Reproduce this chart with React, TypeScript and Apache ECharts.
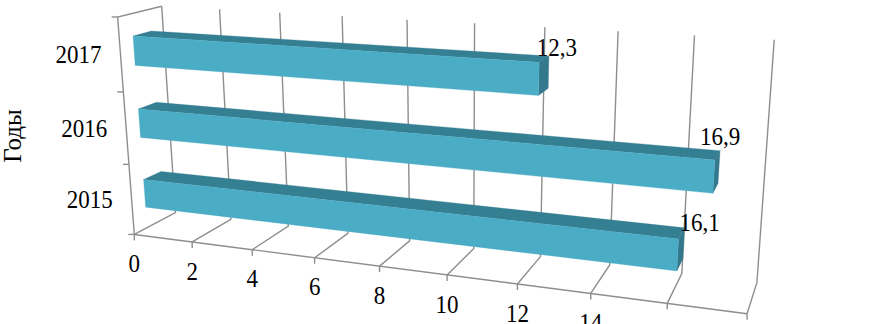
import React, { useEffect, useRef } from "react";
import * as echarts from "echarts";

const categories = ["2015", "2016", "2017"];
const values = [16.1, 16.9, 12.3];
const valueLabels = ["16,1", "16,9", "12,3"];
const labelOffsets = [[15, -5], [0, -14], [8, -8]];
const axisTicks = [0, 2, 4, 6, 8, 10, 12, 14, 16, 18];
const axisTickLabels = ["0", "2", "4", "6", "8", "10", "12", "14", "", ""];
const axisTitle = "Годы";

// Where the chart's 3D box lands on the page: used only to fit the perspective camera.
const floorFrontAnchors = [[134, 235], [193, 243], [252, 250], [315, 257], [379, 267], [447, 275], [518, 283], [591, 293], [667, 303], [747, 313]];
const floorBackAnchors = [[175, 213], [231, 218], [288, 225], [348, 233], [409, 242], [474, 248], [541, 255], [610, 265], [682, 275], [756, 285]];
const wallTopAnchors = [[162, 7], [220, 9], [280, 13], [342, 16], [407, 20], [474, 23], [545, 27], [618, 31], [695, 35], [774, 40]];
const sideTopFrontAnchor = [117, 17];

const BAR_FRONT_DEPTH = 0.3;
const BAR_BACK_DEPTH = 0.72;
const BAR_BAND_SHARE = 0.4;
const FONT = "Liberation Serif";
const FONT_SIZE = 23;
const TEXT_STRETCH = 1.05;
const COLOR_FRONT = "#4BACC6";
const COLOR_TOP = "#357F93";
const COLOR_SIDE = "#33788C";
const COLOR_GRID = "#8E8E8E";
const COLOR_TEXT = "#000000";

function solve(a: number[][], b: number[]) {
  const n = b.length;
  const m = a.map((r, i) => [...r, b[i]]);
  for (let c = 0; c < n; c++) {
    let p = c;
    for (let r = c + 1; r < n; r++) if (Math.abs(m[r][c]) > Math.abs(m[p][c])) p = r;
    [m[c], m[p]] = [m[p], m[c]];
    for (let r = 0; r < n; r++) {
      if (r === c) continue;
      const f = m[r][c] / m[c][c];
      for (let k = c; k <= n; k++) m[r][k] -= f * m[c][k];
    }
  }
  return m.map((r, i) => r[n] / r[i]);
}

function fitCamera() {
  const pts: number[][] = [];
  axisTicks.forEach((t, i) => {
    const X = t / 18;
    pts.push([X, 0, 0, ...floorFrontAnchors[i]]);
    pts.push([X, 0, 1, ...floorBackAnchors[i]]);
    pts.push([X, 1, 1, ...wallTopAnchors[i]]);
  });
  pts.push([0, 1, 0, ...sideTopFrontAnchor]);
  const rows: number[][] = [];
  const rhs: number[] = [];
  pts.forEach(([X, Y, Z, u, v]) => {
    rows.push([X, Y, Z, 1, 0, 0, 0, 0, -u * X, -u * Y, -u * Z]);
    rhs.push(u);
    rows.push([0, 0, 0, 0, X, Y, Z, 1, -v * X, -v * Y, -v * Z]);
    rhs.push(v);
  });
  const n = 11;
  const ata = Array.from({ length: n }, () => new Array(n).fill(0));
  const atb = new Array(n).fill(0);
  rows.forEach((r, i) => {
    for (let a = 0; a < n; a++) {
      atb[a] += r[a] * rhs[i];
      for (let b = 0; b < n; b++) ata[a][b] += r[a] * r[b];
    }
  });
  return solve(ata, atb);
}

const cam = fitCamera();
function project(X: number, Y: number, Z: number): number[] {
  const w = cam[8] * X + cam[9] * Y + cam[10] * Z + 1;
  return [
    (cam[0] * X + cam[1] * Y + cam[2] * Z + cam[3]) / w,
    (cam[4] * X + cam[5] * Y + cam[6] * Z + cam[7]) / w,
  ];
}

const line = (points: number[][], z = 0) => ({
  type: "polyline",
  shape: { points },
  style: { stroke: COLOR_GRID, lineWidth: 1.4, fill: null },
  z2: z,
});
const label = (text: string, x: number, y: number) => ({
  type: "text",
  x,
  y,
  scaleY: TEXT_STRETCH,
  style: { text, fontFamily: FONT, fontSize: FONT_SIZE, fill: COLOR_TEXT, align: "center", verticalAlign: "middle" },
  z2: 50,
});
const face = (points: number[][], fill: string) => ({ type: "polygon", shape: { points }, style: { fill, stroke: fill, lineWidth: 0.3 } });

function renderValueTick(params: any, api: any) {
  const cs = params.coordSys;
  const X = (api.coord([api.value(0), 0])[0] - cs.x) / cs.width;
  const front = project(X, 0, 0);
  const children: any[] = [
    line([front, project(X, 0, 1), project(X, 1, 1)]),
    line([front, [front[0], front[1] + 6]]),
  ];
  const text = axisTickLabels[params.dataIndex];
  if (text) children.push(label(text, front[0], front[1] + 29.5));
  return { type: "group", children };
}

function renderBar(params: any, api: any) {
  const cs = params.coordSys;
  const i = params.dataIndex;
  const p = api.coord([api.value(0), i]);
  const base = api.coord([0, i]);
  const band = api.size([0, 1])[1] / cs.height;
  const X = (p[0] - cs.x) / cs.width;
  const X0 = (base[0] - cs.x) / cs.width;
  const c = 1 - (p[1] - cs.y) / cs.height;
  const h0 = c - (band * BAR_BAND_SHARE) / 2;
  const h1 = c + (band * BAR_BAND_SHARE) / 2;
  const d0 = BAR_FRONT_DEPTH;
  const d1 = BAR_BACK_DEPTH;
  const off = labelOffsets[i];
  const backTop = project(X, h1, d1);
  const axisPt = project(0, c, 0);
  const bandTick = project(0, c + band / 2, 0);
  return {
    type: "group",
    children: [
      face([project(X0, h1, d0), project(X0, h1, d1), project(X, h1, d1), project(X, h1, d0)], COLOR_TOP),
      face([project(X, h1, d0), project(X, h1, d1), project(X, h0, d1), project(X, h0, d0)], COLOR_SIDE),
      face([project(X0, h0, d0), project(X0, h1, d0), project(X, h1, d0), project(X, h0, d0)], COLOR_FRONT),
      label(valueLabels[i], backTop[0] + off[0], backTop[1] + off[1]),
      label(categories[i], axisPt[0] - 42, axisPt[1]),
      line([bandTick, [bandTick[0] - 6, bandTick[1]]]),
    ],
  };
}

function renderFrame() {
  const a = project(0, 0, 0);
  const b = project(0, 1, 0);
  const c = project(0, 1, 1);
  const e = project(1, 0, 0);
  return {
    type: "group",
    children: [line([a, b, c]), line([a, [a[0] - 6, a[1]]]), line([a, e])],
  };
}

export default function App() {
  const ref = useRef<HTMLDivElement>(null);
  useEffect(() => {
    const chart = echarts.init(ref.current!, undefined, { renderer: "svg" });
    chart.setOption({
      animation: false,
      backgroundColor: "#ffffff",
      grid: { left: 0, right: 0, top: 0, bottom: 0 },
      xAxis: { type: "value", min: 0, max: 18, interval: 2, show: false },
      yAxis: { type: "category", data: categories, show: false },
      graphic: [
        {
          type: "text",
          x: 12,
          y: 136,
          rotation: Math.PI / 2,
          style: { text: axisTitle, fontFamily: FONT, fontSize: 25, fill: COLOR_TEXT, align: "center", verticalAlign: "middle" },
        },
      ],
      series: [
        { type: "custom", name: "frame", data: axisTicks.map((t) => [t, 0]), renderItem: renderValueTick, silent: true, z: 1 },
        { type: "custom", name: "side", data: [[0, 0]], renderItem: renderFrame, silent: true, z: 1 },
        { type: "custom", name: "bars", data: values.map((v, i) => [v, i]), renderItem: renderBar, encode: { x: 0, y: 1 }, silent: true, z: 3 },
      ],
    });
    return () => chart.dispose();
  }, []);
  return <div ref={ref} style={{ position: "fixed", left: 0, top: 0, width: 888, height: 324, overflow: "hidden" }} />;
}
